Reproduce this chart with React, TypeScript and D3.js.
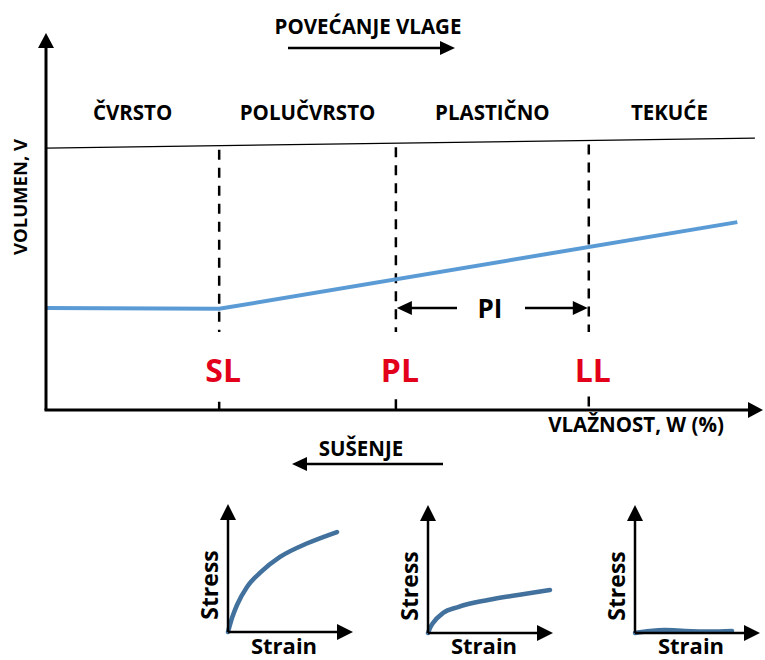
import React from 'react';
import * as d3 from 'd3';

// moisture limits (w, %) and curve values
const limitNames = ['SL', 'PL', 'LL'];
const limitValues = [24.6, 49.7, 77.1];
const phaseNames = ['ČVRSTO', 'POLUČVRSTO', 'PLASTIČNO', 'TEKUĆE'];

const volumeW = [0, 24.6, 98.2];
const volumeV = [27.4, 27.2, 50.5];

const topLineW = [0, 100.7];
const topLineV = [70.4, 73.1];

// stress-strain panels (solid -> semi-solid -> plastic)
const strain1 = [0, 3.2, 7.2, 15.2, 26.4, 41.6, 64, 87.2];
const stress1 = [0, 10.9, 21.1, 35.2, 46.9, 58.6, 69.5, 78.1];
const strain2 = [0, 1.6, 4, 12, 24, 48, 72, 97.6];
const stress2 = [0, 3.9, 7.8, 15.6, 20.3, 25.8, 29.7, 33.6];
const strain3 = [0, 12, 24, 40, 60, 77.6];
const stress3 = [0, 1.6, 2.3, 1.6, 1.2, 1.6];

const FONT = '"Open Sans", sans-serif';
const RED = '#e2001a';
const BLUE = '#5b9bd5';
const DARK_BLUE = '#41719c';

const x = d3.scaleLinear().domain([0, 100]).range([46, 750]);
const y = d3.scaleLinear().domain([0, 100]).range([410, 38]);

function arrowHead(tx: number, ty: number, dir: 'up' | 'right' | 'left', len = 14, half = 7) {
  if (dir === 'up') return `M${tx},${ty}L${tx - half},${ty + len}L${tx + half},${ty + len}Z`;
  if (dir === 'right') return `M${tx},${ty}L${tx - len},${ty - half}L${tx - len},${ty + half}Z`;
  return `M${tx},${ty}L${tx + len},${ty - half}L${tx + len},${ty + half}Z`;
}

function Panel({ ox, oy, sx, sy }: { ox: number; oy: number; sx: number[]; sy: number[] }) {
  const px = d3.scaleLinear().domain([0, 100]).range([ox, ox + 125]);
  const py = d3.scaleLinear().domain([0, 100]).range([oy, oy - 128]);
  const line = d3.line<number>()
    .x((_, i) => px(sx[i]))
    .y(d => py(d))
    .curve(d3.curveMonotoneX);
  const yTop = py(100);
  const xEnd = px(100);
  return (
    <g>
      <path d={line(sy) || ''} fill="none" stroke={DARK_BLUE} strokeWidth={4.5} strokeLinecap="round" />
      <line x1={ox} y1={oy} x2={ox} y2={yTop + 12} stroke="#000" strokeWidth={2.5} />
      <line x1={ox} y1={oy} x2={xEnd - 12} y2={oy} stroke="#000" strokeWidth={2.5} />
      <path d={arrowHead(ox, yTop, 'up', 16, 8)} fill="#000" />
      <path d={arrowHead(xEnd, oy, 'right', 16, 8)} fill="#000" />
      <text transform={`translate(${ox - 10},${oy - 47}) rotate(-90)`} textAnchor="middle"
        fontFamily={FONT} fontWeight={700} fontSize={23}>Stress</text>
      <text x={ox + 56} y={654} textAnchor="middle"
        fontFamily={FONT} fontWeight={700} fontSize={22}>Strain</text>
    </g>
  );
}

export default function App() {
  const volumeLine = d3.line<number>().x((_, i) => x(volumeW[i])).y(d => y(d));
  const topAt = (w: number) =>
    y(topLineV[0] + (topLineV[1] - topLineV[0]) * (w - topLineW[0]) / (topLineW[1] - topLineW[0]));
  const bounds = [0, ...limitValues, 100];
  const yAxisTop = y(100) - 5;
  const xAxisEnd = 763;
  const piY = 308;

  return (
    <svg width={765} height={660} style={{ position: 'absolute', left: 0, top: 0, background: '#fff' }}>
      {/* top arrow: increasing moisture */}
      <text x={368} y={34} textAnchor="middle" fontFamily={FONT} fontWeight={700} fontSize={20.5}>POVEĆANJE VLAGE</text>
      <line x1={288} y1={48} x2={442} y2={48} stroke="#000" strokeWidth={2.5} />
      <path d={arrowHead(455, 48, 'right', 15, 7)} fill="#000" />

      {/* phase labels */}
      {phaseNames.map((p, i) => (
        <text key={p} x={x((bounds[i] + bounds[i + 1]) / 2)} y={120} textAnchor="middle"
          fontFamily={FONT} fontWeight={700} fontSize={20.5}>{p}</text>
      ))}

      {/* upper boundary line */}
      <line x1={x(topLineW[0])} y1={y(topLineV[0])} x2={x(topLineW[1])} y2={y(topLineV[1])}
        stroke="#000" strokeWidth={1.3} />

      {/* limit dashed lines */}
      {limitValues.map((w, i) => (
        <g key={limitNames[i]}>
          <line x1={x(w)} y1={topAt(w) + 4} x2={x(w)} y2={y(0)} stroke="#000" strokeWidth={2.5}
            strokeDasharray="10,8" />
          <rect x={x(w) - 14} y={332} width={36} height={64} fill="#fff" />
          <text x={x(w) + 4} y={382} textAnchor="middle" fill={RED}
            fontFamily={FONT} fontWeight={700} fontSize={32}>{limitNames[i]}</text>
        </g>
      ))}

      {/* volume curve */}
      <path d={volumeLine(volumeV) || ''} fill="none" stroke={BLUE} strokeWidth={4} />

      {/* PI arrows */}
      <line x1={x(limitValues[1]) + 12} y1={piY} x2={457} y2={piY} stroke="#000" strokeWidth={2.5} />
      <path d={arrowHead(x(limitValues[1]) + 1, piY, 'left', 15, 7)} fill="#000" />
      <line x1={525} y1={piY} x2={x(limitValues[2]) - 12} y2={piY} stroke="#000" strokeWidth={2.5} />
      <path d={arrowHead(x(limitValues[2]) - 1, piY, 'right', 15, 7)} fill="#000" />
      <text x={490} y={318} textAnchor="middle" fontFamily={FONT} fontWeight={700} fontSize={26}>PI</text>

      {/* axes */}
      <line x1={x(0)} y1={y(0)} x2={x(0)} y2={yAxisTop + 12} stroke="#000" strokeWidth={3} />
      <path d={arrowHead(x(0), yAxisTop, 'up', 15, 8)} fill="#000" />
      <line x1={x(0) - 1.5} y1={y(0)} x2={xAxisEnd - 12} y2={y(0)} stroke="#000" strokeWidth={3} />
      <path d={arrowHead(xAxisEnd, y(0), 'right', 15, 8)} fill="#000" />
      <text transform={`translate(27,197) rotate(-90)`} textAnchor="middle"
        fontFamily={FONT} fontWeight={700} fontSize={18.5}>VOLUMEN, V</text>
      <text x={636} y={432} textAnchor="middle" fontFamily={FONT} fontWeight={700} fontSize={20.5}>VLAŽNOST, W (%)</text>

      {/* drying arrow */}
      <text x={361} y={456} textAnchor="middle" fontFamily={FONT} fontWeight={700} fontSize={20.5}>SUŠENJE</text>
      <line x1={443} y1={464} x2={305} y2={464} stroke="#000" strokeWidth={2.5} />
      <path d={arrowHead(292, 464, 'left', 15, 7)} fill="#000" />

      {/* stress-strain panels */}
      <Panel ox={228} oy={632} sx={strain1} sy={stress1} />
      <Panel ox={428} oy={633} sx={strain2} sy={stress2} />
      <Panel ox={635} oy={633} sx={strain3} sy={stress3} />
    </svg>
  );
}
